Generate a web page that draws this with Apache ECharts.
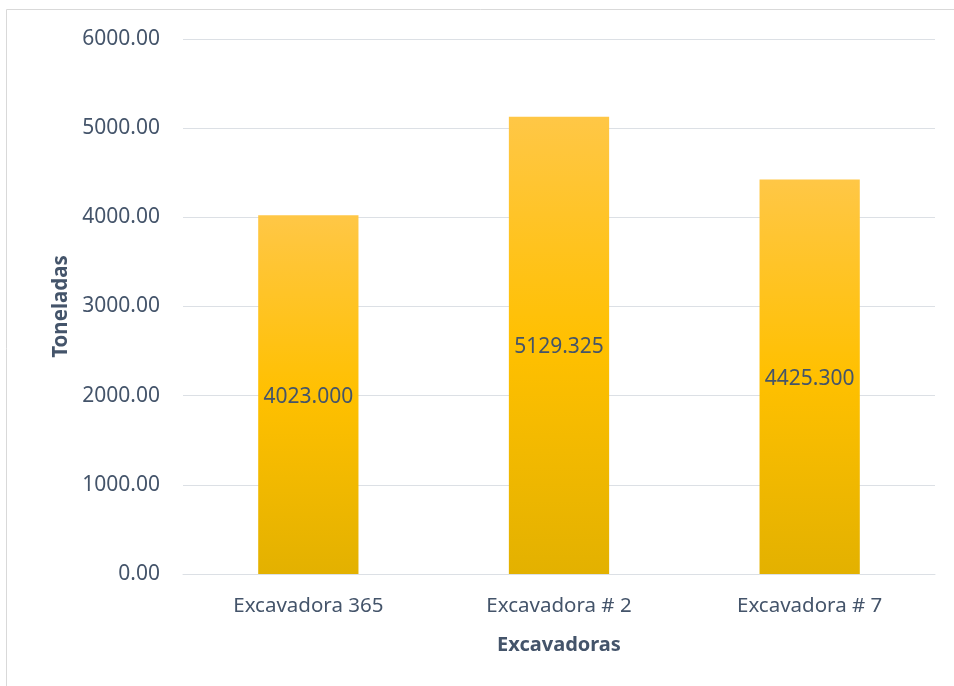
<!DOCTYPE html>
<html><head><meta charset="utf-8">
<script src="https://cdn.jsdelivr.net/npm/echarts@6/dist/echarts.min.js"></script>
<style>html,body{margin:0;padding:0;background:#fff}#c{width:954px;height:686px}</style>
</head><body><div id="c"></div>
<script>
const categories = ['Excavadora 365', 'Excavadora # 2', 'Excavadora # 7'];
const values = [4023.000, 5129.325, 4425.300];
const yTicks = { min: 0, max: 6000, interval: 1000 };
const xTitle = 'Excavadoras';
const yTitle = 'Toneladas';

const txt = '#44546A';
const font = '"Noto Sans", "Open Sans", sans-serif';
const chart = echarts.init(document.getElementById('c'));
chart.setOption({
  animation: false,
  graphic: [{ type: 'rect', shape: { x: 6.5, y: 9.5, width: 1000, height: 1000 }, style: { fill: 'none', stroke: '#D9D9D9', lineWidth: 1 }, silent: true }],
  grid: { left: 183, right: 19, top: 39, bottom: 112 },
  xAxis: {
    type: 'category', data: categories,
    name: xTitle, nameLocation: 'middle', nameGap: 61,
    nameTextStyle: { color: txt, fontFamily: font, fontSize: 20, fontWeight: 'bold' },
    axisLine: { lineStyle: { color: '#DCE0E5', width: 1 } },
    axisTick: { show: false },
    axisLabel: { color: txt, fontFamily: font, fontSize: 20.5, margin: 22 }
  },
  yAxis: {
    type: 'value', min: yTicks.min, max: yTicks.max, interval: yTicks.interval,
    name: yTitle, nameLocation: 'middle', nameGap: 109, nameRotate: 90,
    nameTextStyle: { color: txt, fontFamily: font, fontSize: 20.5, fontWeight: 'bold' },
    axisLine: { show: false }, axisTick: { show: false },
    splitLine: { lineStyle: { color: '#DCE0E5', width: 1 } },
    axisLabel: { color: txt, fontFamily: font, fontSize: 21, margin: 23, formatter: v => v.toFixed(2) }
  },
  series: [{
    type: 'bar', data: values, barWidth: '40%',
    itemStyle: {
      color: new echarts.graphic.LinearGradient(0, 0, 0, 1, [
        { offset: 0, color: '#FFC746' },
        { offset: 0.5, color: '#FFC000' },
        { offset: 1, color: '#E3B100' }
      ])
    },
    label: { show: true, position: 'inside', offset: [0, 2], color: txt, fontFamily: font, fontSize: 21, formatter: p => p.value.toFixed(3) }
  }]
});
</script></body></html>
